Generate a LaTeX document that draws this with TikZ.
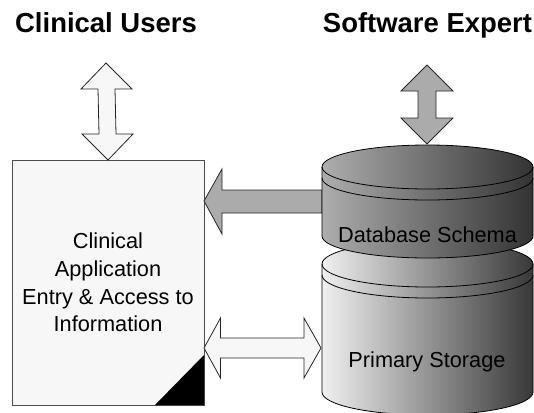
\documentclass[tikz,border=0pt]{standalone}
\usepackage{fontspec}
\setmainfont{Liberation Sans}
\usetikzlibrary{calc}

\begin{document}
\begin{tikzpicture}[x=.75pt,y=.75pt,line width=.6pt,
  whitearrow/.style={draw=black!85,fill=black!3},
  greyarrow/.style={draw=black!85,fill=black!33},
  label/.style={inner sep=0pt,font=\fontsize{16.3}{20.8}\selectfont,align=center},
  title/.style={inner sep=0pt,anchor=base,font=\fontsize{20.6}{24}\selectfont\bfseries}]
\useasboundingbox (0,0) rectangle (534,412);
\draw node [title] (Users) at (106,380) {Clinical Users};
\draw node [title] (Expert) at (427.5,380) {Software Expert};
% the application sheet
\draw node [draw=black!70,fill=black!3,minimum width=144pt,minimum height=183.75pt,outer sep=0pt,label] (App) at (108,129.5)
  {Clinical\\Application\\Entry \& Access to\\Information};
\fill ($ (App.south east) + (-49,0) $) -- (App.south east) -- ($ (App.south east) + (0,50) $) -- cycle;
% block arrows
\filldraw [whitearrow] (106,349) -- (132,323) -- (115,323) -- (116,278) -- (133,278) -- (108,252) -- (82,278) -- (99,278) -- (98,323) -- (81,323) -- cycle;
\filldraw [greyarrow] (427,347) -- (453,321) -- (436,321) -- (436,294) -- (453,294) -- (427,268) -- (401,294) -- (418,294) -- (418,321) -- (401,321) -- cycle;
\filldraw [greyarrow] (204,211) -- (222,243) -- (222,222) -- (322,222) -- (322,199) -- (222,199) -- (222,178) -- cycle;
\filldraw [whitearrow] (204,64) -- (220.5,94) -- (220.5,74) -- (304,74) -- (304,94) -- (321,64) -- (304,34) -- (304,54) -- (220.5,54) -- (220.5,34) -- cycle;
% primary storage
\shadedraw [left color=black!6,right color=black!78] (322,148) -- (322,20) arc [start angle=180,end angle=360,x radius=105.5,y radius=23] -- (533,148) arc [start angle=0,end angle=180,x radius=105.5,y radius=23];
\draw (322,148) arc [start angle=180,end angle=360,x radius=105.5,y radius=23];
\draw (322,137) arc [start angle=180,end angle=360,x radius=105.5,y radius=23];
% database schema
\shadedraw [left color=black!32,right color=black!80] (322,245) -- (322,176) arc [start angle=180,end angle=360,x radius=105.5,y radius=22] -- (533,245) arc [start angle=0,end angle=180,x radius=105.5,y radius=22];
\draw (322,245) arc [start angle=180,end angle=360,x radius=105.5,y radius=22];
\draw (322,234) arc [start angle=180,end angle=360,x radius=105.5,y radius=22];
\draw node [label] (Schema) at (427.5,177) {Database Schema};
\draw node [label] (Storage) at (427,50) {Primary Storage};
\end{tikzpicture}
\end{document}
